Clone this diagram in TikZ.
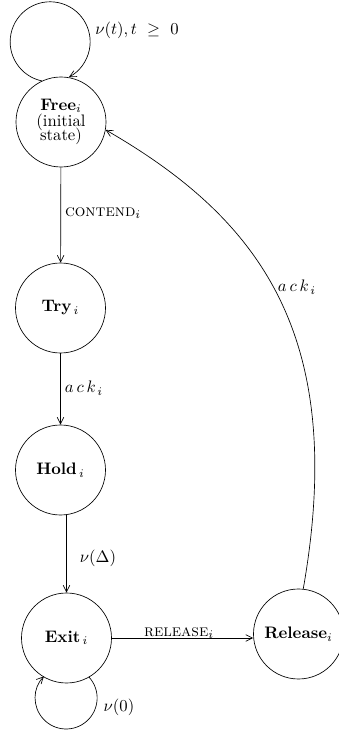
\documentclass[tikz,border=0pt]{standalone}
\usetikzlibrary{arrows.meta}
\begin{document}
\begin{tikzpicture}[x=0.6pt,y=0.6pt,
  state/.style={draw,circle,line width=0.4pt,minimum size=54pt,inner sep=0pt,align=center},
  arr/.style={line width=0.4pt,-{Straight Barb[length=4pt,width=4pt]}},
  lbl/.style={inner sep=0pt}]
\useasboundingbox (0,0) rectangle (339,731);
\node[state] (free) at (61,609) {\textbf{Free}$_i$\\[-2pt](initial\\[-3.6pt]state)};
\node[state] (try) at (60.5,423) {\textbf{Try}$_{\,i}$};
\node[state] (hold) at (60.5,261) {\textbf{Hold}$_{\,i}$};
\node[state] (exit) at (66.5,93) {\textbf{Exit}$_{\,i}$};
\node[state] (release) at (298.5,97) {\textbf{Release}$_i$};
% connectors
\draw[arr] (free.115) arc[start angle=258,end angle=-62,radius=24pt];
\draw[arr] (free) -- (try);
\draw[arr] (try) -- (hold);
\draw[arr] (hold.south -| exit.north) -- (exit.north);
\draw[arr] (exit.east) -- (exit.east -| release.west);
\draw[arr] (exit.-60) arc[start angle=42,end angle=-224,radius=18.6pt];
\draw[arr] (release.84) .. controls +(80:260) and +(-30:175) .. (free.-10);
% labels
\node[lbl] (l1) at (137,701) {$\nu(t),t\ \geq\ 0$};
\node[lbl] (l2) at (103,518) {\textsc{contend}$_i$};
\node[lbl] (l3) at (84,343) {$a\,c\,k_{\,i}$};
\node[lbl] (l4) at (98,173) {$\nu(\Delta)$};
\node[lbl] (l5) at (179,98) {\textsc{release}$_i$};
\node[lbl] (l6) at (297,444) {$a\,c\,k_{\,i}$};
\node[lbl] (l7) at (119,24) {$\nu(0)$};
\end{tikzpicture}
\end{document}
